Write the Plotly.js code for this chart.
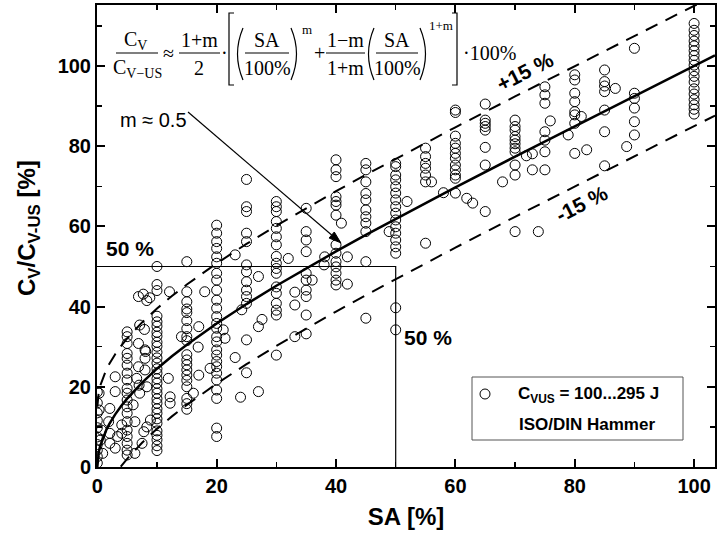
<!DOCTYPE html>
<html>
<head>
<meta charset="utf-8">
<script src="https://cdn.plot.ly/plotly-3.0.1.min.js"></script>
<style>
  html, body { margin: 0; padding: 0; background: #fff; }
  #chart { width: 717px; height: 545px; }
</style>
</head>
<body>
<div id="chart"></div>
<script>
// Measured Charpy energy ratio C_V/C_V-US [%] against shear area SA [%],
// one array per nominal shear-area level.
const cv0   = [1.0, 2.6, 4.2, 5.6, 7.5, 9.8, 11.6, 13.5, 16.0, 18.7];
const cv5   = [3.0, 4.2, 5.9, 7.6, 9.2, 11.3, 13.4, 15.0, 16.7, 18.4, 19.6, 21.7, 23.4, 25.4, 27.1, 28.3, 30.8, 32.5, 33.7];
const cv10  = [4.1, 5.3, 6.8, 7.9, 9.0, 10.9, 12.0, 13.4, 14.5, 15.9, 17.0, 18.4, 19.5, 20.9, 22.0, 23.4, 24.5, 25.9, 27.2, 28.6, 30.1, 31.1, 32.6, 33.6, 35.1, 36.2, 37.6, 44.0, 45.5, 50.0];
const cv15  = [14.4, 15.8, 17.1, 20.0, 21.6, 22.9, 24.2, 25.5, 26.7, 28.0, 31.5, 32.5, 34.5, 36.5, 38.5, 39.4, 41.2, 43.7, 51.2];
const cv20  = [7.6, 9.7, 17.1, 19.2, 21.7, 23.4, 25.0, 26.3, 27.9, 29.2, 31.2, 32.5, 34.6, 35.8, 37.5, 39.6, 41.6, 44.1, 46.6, 48.3, 50.8, 52.4, 54.5, 56.2, 58.3, 60.3];
const cv25  = [23.5, 31.7, 40.8, 42.5, 44.1, 46.2, 48.7, 50.4, 56.2, 58.3, 63.7, 64.9, 71.7];
const cv30  = [27.9, 37.9, 39.1, 40.8, 43.3, 44.9, 48.3, 49.5, 50.8, 52.5, 55.4, 57.4, 59.5, 61.2, 63.7, 64.9, 66.2];
const cv35  = [33.2, 37.9, 42.5, 44.1, 46.6, 48.3, 53.7, 56.6, 58.7, 64.5];
const cv40  = [45.4, 46.6, 48.3, 49.9, 51.2, 53.3, 55.4, 62.8, 65.3, 66.2, 67.4, 72.4, 74.1, 76.6];
const cv45  = [37.1, 51.2, 58.7, 60.8, 62.4, 64.1, 66.6, 68.2, 71.1, 74.1, 75.7];
const cv50  = [34.2, 39.7, 53.3, 54.9, 56.6, 58.3, 59.9, 61.6, 63.3, 64.9, 66.6, 68.3, 69.9, 71.6, 72.8, 74.9, 75.7];
const cv55  = [55.8, 71.1, 72.8, 74.5, 75.7, 77.4, 79.5];
const cv60  = [68.3, 72.0, 72.8, 74.1, 75.3, 77.0, 78.2, 79.5, 80.7, 82.5, 88.4, 89.0];
const cv65  = [63.7, 75.3, 79.7, 84.0, 84.9, 85.7, 86.5, 90.5];
const cv70  = [58.7, 72.8, 75.3, 78.6, 79.5, 80.6, 81.5, 82.4, 84.0, 84.9, 86.5];
const cv75  = [74.1, 78.6, 81.5, 83.6, 90.7, 92.8, 94.8];
const cv80  = [78.2, 85.7, 87.8, 88.6, 91.1, 93.2, 96.5, 97.8];
const cv85  = [75.1, 83.6, 89.0, 93.6, 95.0, 96.1, 99.0];
const cv90  = [82.8, 86.1, 89.5, 91.9, 93.2, 104.4];
const cv100 = [88.0, 89.2, 90.3, 91.6, 93.0, 94.3, 96.0, 97.4, 98.8, 100.2, 101.4, 102.6, 103.8, 105.0, 106.2, 107.6, 108.9, 110.6];

const saLevels = [0, 5, 10, 15, 20, 25, 30, 35, 40, 45, 50, 55, 60, 65, 70, 75, 80, 85, 90, 100];
const cvByLevel = [cv0, cv5, cv10, cv15, cv20, cv25, cv30, cv35, cv40, cv45, cv50, cv55, cv60, cv65, cv70, cv75, cv80, cv85, cv90, cv100];

const offSA = [0.3, 0.3, 0.5, 0.7, 0.9, 1.9, 2.1, 2.1, 2.1, 3.0, 3.0, 3.0, 3.4, 4.1, 4.1,
  6.0, 6.3, 6.3, 6.6, 6.9, 6.9, 6.9, 7.0, 7.1, 7.1, 7.5, 7.7, 7.8, 7.9, 8.0, 8.0, 8.0, 8.1, 8.3, 8.3, 8.3, 8.8, 8.9,
  11.9, 12.1, 12.2, 12.2, 14.1, 16.1, 16.9, 17.0, 17.0, 18.0, 18.9, 21.1, 21.4, 23.1, 23.1, 24.0, 24.2,
  27.0, 27.0, 27.0, 27.6, 32.0, 33.1, 33.1, 33.1, 36.0, 38.0, 38.1, 40.9, 41.9, 41.9, 48.9, 51.9,
  56.0, 58.0, 61.9, 62.9, 67.9, 71.9, 72.9, 72.9, 73.9, 75.9, 78.9, 81.1, 82.0, 86.8, 88.7];
const offCV = [18.4, 14.2, 6.7, 9.2, 3.4, 11.3, 14.6, 8.4, 5.9, 22.5, 18.8, 4.7, 7.6, 10.5, 8.4,
  15.5, 11.3, 3.4, 22.1, 42.5, 30.8, 25.0, 20.4, 35.4, 18.4, 5.9, 43.1, 8.8, 34.3, 29.2, 27.1, 24.2, 28.8, 41.5, 20.0, 10.0, 42.2, 11.7,
  22.1, 43.7, 17.5, 15.9, 32.5, 18.4, 29.9, 35.0, 22.9, 43.7, 24.6, 34.2, 32.1, 52.9, 27.3, 17.4, 39.2,
  47.5, 35.0, 18.8, 36.8, 52.0, 43.6, 40.4, 32.5, 46.6, 50.4, 52.4, 60.8, 52.4, 45.6, 58.7, 66.2,
  71.1, 68.4, 67.0, 65.8, 71.1, 77.6, 78.1, 74.1, 58.7, 86.3, 82.8, 87.4, 79.1, 94.4, 79.9];

// Fitted relation for m = 0.5 (values of the formula shown in the chart)
const curveSA = [0, 0.1, 0.25, 0.5, 1, 1.5, 2, 3, 4, 5, 7.5, 10, 12.5, 15, 20, 25, 30, 35, 40, 45, 50, 60, 70, 80, 90, 100, 103.5];
const curveCV = [0, 2.37, 3.75, 5.31, 7.52, 9.23, 10.68, 13.12, 15.2, 17.05, 21.05, 24.51, 27.62, 30.50, 35.78, 40.63, 45.19, 49.55, 53.76, 57.86, 61.87, 69.71, 77.39, 84.97, 92.50, 100, 102.63];
const BAND = 15;            // scatter band, +/- 15 %
const HALF = 50;            // 50 % reference lines
const rectSA = [0, HALF, HALF];
const rectCV = [HALF, HALF, 0];

// Pointer from the "m ≈ 0.5" label to the fitted curve (tail, tip)
const pointerSA = [15.2, 40.8];
const pointerCV = [88.5, 55.9];

// ---- assemble scatter arrays from the level arrays ----
const ptsSA = [], ptsCV = [];
saLevels.forEach((sa, i) => cvByLevel[i].forEach(v => { ptsSA.push(sa); ptsCV.push(v); }));
offSA.forEach((sa, i) => { ptsSA.push(sa); ptsCV.push(offCV[i]); });

const upperCV = curveCV.map(v => v + BAND);
const lowerCV = curveCV.map(v => v - BAND);

const traces = [
  { x: rectSA, y: rectCV, mode: 'lines', line: { color: '#000', width: 1.2 }, hoverinfo: 'skip' },
  { x: curveSA, y: upperCV, mode: 'lines', line: { color: '#000', width: 2, dash: '13px,9px' }, hoverinfo: 'skip' },
  { x: curveSA, y: lowerCV, mode: 'lines', line: { color: '#000', width: 2, dash: '13px,9px' }, hoverinfo: 'skip' },
  { x: curveSA, y: curveCV, mode: 'lines', line: { color: '#000', width: 2.5 }, hoverinfo: 'skip' },
  { x: ptsSA, y: ptsCV, mode: 'markers', cliponaxis: true,
    marker: { symbol: 'circle-open', size: 10, color: '#000', line: { width: 1, color: '#000' } } }
];

// ---- plot frame geometry (pixels) and paper helpers ----
const L = 97, R = 715, T = 5, B = 467;
const X_RANGE = [-0.05, 103.5], Y_RANGE = [0, 115.2];
const fx = p => (p - L) / (R - L);
const fy = p => (B - p) / (B - T);
const pxPerX = (R - L) / (X_RANGE[1] - X_RANGE[0]);
const pxPerY = (B - T) / (Y_RANGE[1] - Y_RANGE[0]);

const SANS = 'Liberation Sans, Arial, sans-serif';
const SERIF = 'Liberation Serif, Times New Roman, serif';

const ann = [];
const shapes = [];

function ftext(text, xp, yp, size, anchor) {
  ann.push({ xref: 'paper', yref: 'paper', x: fx(xp), y: fy(yp), text: text, showarrow: false,
    xanchor: anchor || 'center', yanchor: 'middle', font: { family: SERIF, size: size || 20, color: '#000' } });
}
function fline(x0, x1, yp) {
  shapes.push({ type: 'line', xref: 'paper', yref: 'paper', x0: fx(x0), x1: fx(x1), y0: fy(yp), y1: fy(yp),
    line: { color: '#000', width: 1.2 } });
}
function fpath(d, w) {
  shapes.push({ type: 'path', xref: 'paper', yref: 'paper', path: d, line: { color: '#000', width: w || 1.2 } });
}
function paren(xEnd, xMid, y0, y1) {
  fpath(`M ${fx(xEnd)} ${fy(y0)} Q ${fx(xMid)} ${fy((y0 + y1) / 2)} ${fx(xEnd)} ${fy(y1)}`);
}
function bracket(xEdge, xTip, y0, y1) {
  fpath(`M ${fx(xTip)} ${fy(y0)} L ${fx(xEdge)} ${fy(y0)} L ${fx(xEdge)} ${fy(y1)} L ${fx(xTip)} ${fy(y1)}`);
}

// ---- formula:  C_V / C_V-US  ≈ (1+m)/2 · [ (SA/100%)^m + (1-m)/(1+m) (SA/100%)^(1+m) ] · 100% ----
const NUM = 40, BAR = 53, DEN = 68;
ftext('C<sub>V</sub>', 135, NUM);
fline(116, 158, BAR);
ftext('C<sub>V\u2212US</sub>', 137, DEN);
ftext('\u2248', 168, BAR);
ftext('1+m', 199, NUM);
fline(179, 220, BAR);
ftext('2', 199, DEN);
ftext('\u00b7', 224, BAR);
bracket(229, 234, 13, 85);
paren(243, 232, 28, 80);
ftext('SA', 267, NUM);
fline(245, 289, BAR);
ftext('100%', 267, DEN);
paren(291, 302, 28, 80);
ftext('m', 307, 29, 13);
ftext('+', 319, BAR);
ftext('1\u2212m', 345, NUM);
fline(326, 365, BAR);
ftext('1+m', 345, DEN);
paren(374, 363, 28, 80);
ftext('SA', 397, NUM);
fline(376, 418, BAR);
ftext('100%', 397, DEN);
paren(420, 431, 28, 80);
ftext('1+m', 441, 26, 13);
bracket(457, 452, 13, 85);
ftext('\u00b7100%', 461, BAR, 20, 'left');

// ---- labels in data coordinates ----
const bold = (size) => ({ family: SANS, size: size, color: '#000', weight: 'bold' });
ann.push({ x: 71.7, y: 98.5, text: '+15 %', showarrow: false, textangle: -27, font: bold(21) });
ann.push({ x: 81.2, y: 65.8, text: '-15 %', showarrow: false, textangle: -27, font: bold(21) });
ann.push({ x: 5.5, y: HALF + 4.4, text: HALF + ' %', showarrow: false, font: bold(21) });
ann.push({ x: HALF + 5.4, y: 32.4, text: HALF + ' %', showarrow: false, font: bold(21) });
ann.push({ x: 3.5, y: 86.5, text: 'm \u2248 0.5', showarrow: false, xanchor: 'left',
  font: { family: SANS, size: 20, color: '#000' } });

// pointer: thin line with a filled head, built in data units from the axis scale
(function () {
  const [x0, x1] = pointerSA, [y0, y1] = pointerCV;
  const dxp = (x1 - x0) * pxPerX, dyp = (y1 - y0) * pxPerY;
  const len = Math.hypot(dxp, dyp), ux = dxp / len, uy = dyp / len;
  const headLen = 12, headHalf = 4;
  const bx = -ux * headLen, by = -uy * headLen;            // base centre offset (px)
  const px = -uy * headHalf, py = ux * headHalf;           // perpendicular (px)
  const toX = p => p / pxPerX, toY = p => p / pxPerY;
  shapes.push({ type: 'line', xref: 'x', yref: 'y', x0: x0, y0: y0, x1: x1 + toX(bx), y1: y1 + toY(by),
    line: { color: '#000', width: 1.2 } });
  const c1 = [x1 + toX(bx + px), y1 + toY(by + py)];
  const c2 = [x1 + toX(bx - px), y1 + toY(by - py)];
  shapes.push({ type: 'path', xref: 'x', yref: 'y', path: `M ${x1} ${y1} L ${c1[0]} ${c1[1]} L ${c2[0]} ${c2[1]} Z`,
    fillcolor: '#000', line: { color: '#000', width: 1 } });
})();

// ---- y-axis title ----
ann.push({ xref: 'paper', yref: 'paper', x: fx(28), y: fy(228), xanchor: 'center', yanchor: 'middle',
  showarrow: false, textangle: -90, text: 'C<sub>V</sub>/C<sub>V-US</sub> [%]', font: bold(24) });

// ---- legend box ----
shapes.push({ type: 'rect', xref: 'paper', yref: 'paper', x0: fx(472), x1: fx(683), y0: fy(377), y1: fy(440),
  line: { color: '#555', width: 1 }, fillcolor: 'rgba(255,255,255,0)' });
shapes.push({ type: 'circle', xref: 'paper', yref: 'paper', xsizemode: 'pixel', ysizemode: 'pixel',
  xanchor: fx(485), yanchor: fy(394), x0: -5, x1: 5, y0: -5, y1: 5, line: { color: '#000', width: 1 } });
ann.push({ xref: 'paper', yref: 'paper', x: fx(516), y: fy(395), xanchor: 'left', yanchor: 'middle', showarrow: false,
  text: 'C<sub>VUS</sub> = 100...295 J', font: bold(17) });
ann.push({ xref: 'paper', yref: 'paper', x: fx(517), y: fy(424), xanchor: 'left', yanchor: 'middle', showarrow: false,
  text: 'ISO/DIN Hammer', font: bold(17) });

const axisBase = {
  showline: true, linecolor: '#000', linewidth: 2, mirror: 'ticks',
  ticks: 'inside', ticklen: 8, tickwidth: 2, tickcolor: '#000',
  showgrid: false, zeroline: false, tick0: 0, dtick: 20,
  minor: { ticks: 'inside', dtick: 10, ticklen: 5, tickwidth: 1.5, tickcolor: '#000', showgrid: false },
  tickfont: bold(20), automargin: false
};

const layout = {
  width: 717, height: 545,
  margin: { l: L, r: 717 - R, t: T, b: 545 - B, pad: 0 },
  paper_bgcolor: '#fff', plot_bgcolor: '#fff',
  showlegend: false,
  font: { family: SANS, color: '#000' },
  xaxis: Object.assign({}, axisBase, { range: X_RANGE,
    title: { text: 'SA [%]', font: bold(24), standoff: 12 } }),
  yaxis: Object.assign({}, axisBase, { range: Y_RANGE }),
  annotations: ann,
  shapes: shapes
};

Plotly.newPlot('chart', traces, layout, { displayModeBar: false, staticPlot: true });
</script>
</body>
</html>
